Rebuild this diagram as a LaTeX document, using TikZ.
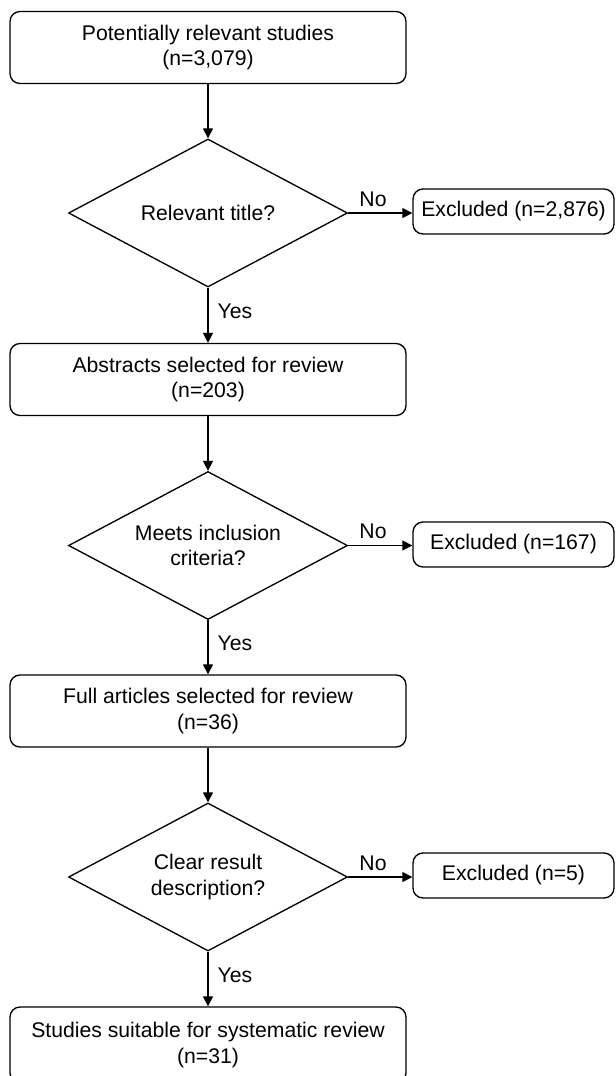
\documentclass[tikz,border=0pt]{standalone}
\usepackage{fontspec}
\setmainfont{Liberation Sans}
\usetikzlibrary{shapes.geometric,arrows.meta}
\begin{document}
\begin{tikzpicture}[x=0.75pt,y=-0.75pt,
  every node/.style={font=\fontsize{15.9pt}{19pt}\selectfont, text=black},
  stepbox/.style={draw, line width=1pt, rounded corners=7.5pt, minimum width=297pt, minimum height=54pt, align=center, inner sep=0pt},
  exbox/.style={draw, line width=1pt, rounded corners=7.5pt, minimum width=150.75pt, minimum height=33.75pt, align=center, inner sep=0pt},
  decision/.style={draw, line width=1pt, diamond, aspect=1.885, minimum width=209.25pt, minimum height=111pt, align=center, inner sep=0pt},
  conn/.style={line width=1pt, -{Triangle[length=7.5pt,width=7.5pt]}},
  lbl/.style={inner sep=0pt}
]
\useasboundingbox (0,0) rectangle (616,1076);
\node[stepbox] (b1) at (208,47.5) {Potentially relevant studies\\(n=3,079)};
\node[decision] (d1) at (208,213) {Relevant title?};
\node[exbox] (e1) at (513.5,211.5) {Excluded (n=2,876)};
\node[stepbox] (b2) at (208,379.5) {Abstracts selected for review\\(n=203)};
\node[decision] (d2) at (208,545.5) {Meets inclusion\\criteria?};
\node[exbox] (e2) at (513.5,544.5) {Excluded (n=167)};
\node[stepbox] (b3) at (208,711) {Full articles selected for review\\(n=36)};
\node[decision] (d3) at (208,877) {Clear result\\description?};
\node[exbox] (e3) at (513.5,875.5) {Excluded (n=5)};
\node[stepbox, minimum height=57pt] (b4) at (208,1045) {Studies suitable for systematic review\\(n=31)};

\draw[conn] (b1) -- (d1);
\draw[conn] (d1) -- (b2);
\draw[conn] (b2) -- (d2);
\draw[conn] (d2) -- (b3);
\draw[conn] (b3) -- (d3);
\draw[conn] (d3) -- (b4);
\draw[conn] (d1.east) -- (d1.east -| e1.west);
\draw[conn] (d2.east) -- (d2.east -| e2.west);
\draw[conn] (d3.east) -- (d3.east -| e3.west);

\node[lbl] (n1) at (373,199) {No};
\node[lbl] (n2) at (373,531) {No};
\node[lbl] (n3) at (373,863) {No};
\node[lbl] (y1) at (235,311) {Yes};
\node[lbl] (y2) at (235,643) {Yes};
\node[lbl] (y3) at (235,975) {Yes};
\end{tikzpicture}
\end{document}
